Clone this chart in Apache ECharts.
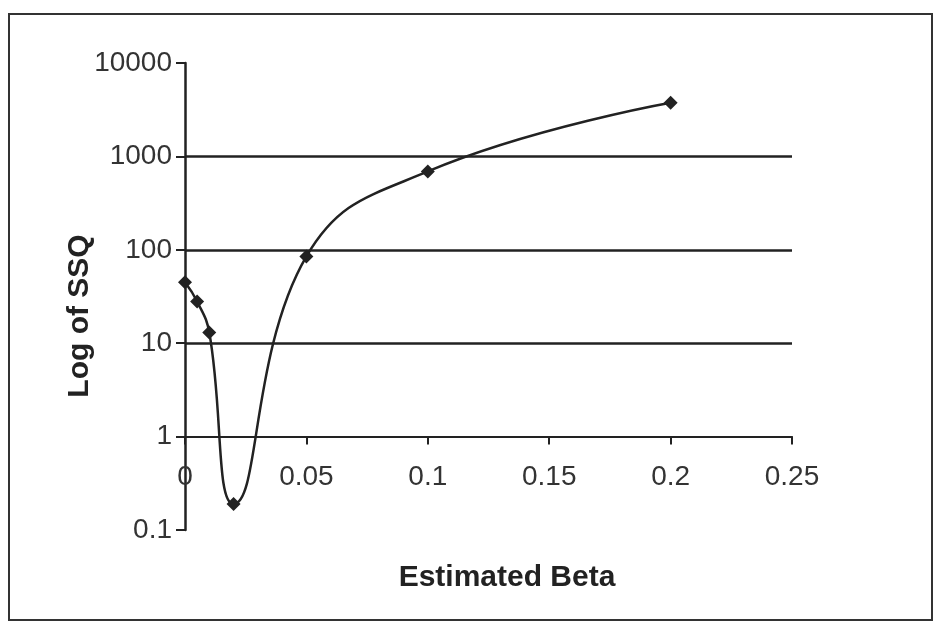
<!DOCTYPE html>
<html>
<head>
<meta charset="utf-8">
<script src="https://cdn.jsdelivr.net/npm/echarts@6/dist/echarts.min.js"></script>
<style>
    html, body { margin: 0; padding: 0; background: #fff; }
    #chart { width: 935px; height: 625px; }
</style>
</head>
<body>
<div id="chart"></div>
<script>
// 数据
var betaValues = [0, 0.005, 0.01, 0.02, 0.05, 0.1, 0.2]
var ssqValues = [45, 28, 13, 0.19, 85, 690, 3750]
var xTicks = [0, 0.05, 0.1, 0.15, 0.2, 0.25]
var gridLevels = [10, 100, 1000]

var points = []
for (var i = 0; i < betaValues.length; i++) {
    points.push([betaValues[i], ssqValues[i]])
}
var levelLines = []
for (var j = 0; j < gridLevels.length; j++) {
    levelLines.push({ yAxis: gridLevels[j] })
}

var chart = echarts.init(document.getElementById('chart'))
var font = 'Liberation Sans, Arial, sans-serif'
var option = {
    backgroundColor: '#fff',
    animation: false,
    grid: { left: 185, right: 143, top: 63, bottom: 95 },
    graphic: [
        {
            type: 'rect',
            shape: { x: 9, y: 14, width: 923, height: 606 },
            style: { fill: 'none', stroke: '#333', lineWidth: 2 },
            silent: true
        },
        {
            type: 'text',
            x: 507, y: 578,
            style: {
                text: 'Estimated Beta', font: 'bold 30px ' + font, fill: '#222',
                align: 'center', verticalAlign: 'middle'
            }
        },
        {
            type: 'text',
            x: 80, y: 316,
            rotation: Math.PI / 2,
            style: {
                text: 'Log of SSQ', font: 'bold 30px ' + font, fill: '#222',
                align: 'center', verticalAlign: 'middle'
            }
        }
    ],
    xAxis: {
        type: 'value',
        min: 0,
        max: 0.25,
        interval: 0.05,
        offset: -93.4,
        axisLine: { lineStyle: { color: '#222', width: 2 } },
        axisTick: { show: true, length: 8, lineStyle: { color: '#222', width: 2 } },
        axisLabel: {
            margin: 27,
            fontSize: 28,
            fontFamily: font,
            color: '#333',
            formatter: function (v) {
                return xTicks.indexOf(Math.round(v * 100) / 100) >= 0 ? String(Math.round(v * 100) / 100) : ''
            }
        },
        splitLine: { show: false }
    },
    yAxis: {
        type: 'log',
        logBase: 10,
        min: 0.1,
        max: 10000,
        axisLine: { show: true, lineStyle: { color: '#222', width: 2.5 } },
        axisTick: { show: true, length: 9, lineStyle: { color: '#222', width: 2 } },
        axisLabel: {
            margin: 13,
            fontSize: 28,
            fontFamily: font,
            color: '#333',
            formatter: function (v) { return String(v) }
        },
        splitLine: { show: false }
    },
    series: [
        {
            type: 'line',
            data: points,
            smooth: 0.45,
            symbol: 'diamond',
            symbolSize: 14,
            lineStyle: { color: '#222', width: 2.5 },
            itemStyle: { color: '#222' },
            markLine: {
                silent: true,
                symbol: 'none',
                label: { show: false },
                lineStyle: { color: '#222', width: 2.5, type: 'solid' },
                data: levelLines
            },
            z: 3
        }
    ]
}
chart.setOption(option)
window.addEventListener('resize', function () {
    chart.resize()
})
</script>
</body>
</html>
